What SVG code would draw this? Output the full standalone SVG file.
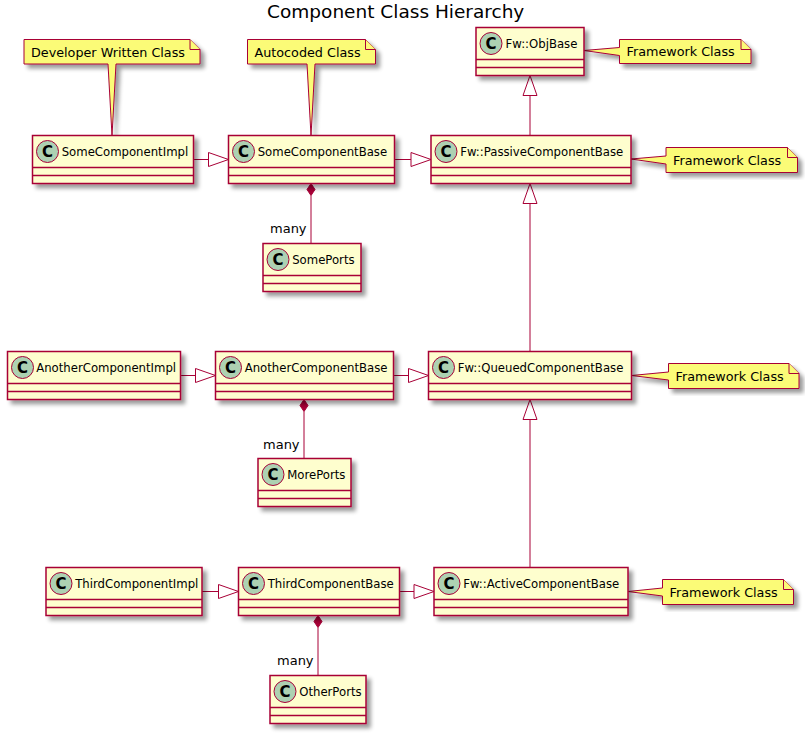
<svg xmlns="http://www.w3.org/2000/svg" width="805" height="736" viewBox="0 0 805 736">
<defs>
<filter id="sh" x="-10%" y="-10%" width="130%" height="140%">
<feGaussianBlur in="SourceAlpha" stdDeviation="2" result="b"/>
<feOffset in="b" dx="4" dy="4" result="o"/>
<feComponentTransfer in="o" result="s"><feFuncA type="linear" slope="0.4"/></feComponentTransfer>
<feMerge><feMergeNode in="s"/><feMergeNode in="SourceGraphic"/></feMerge>
</filter>
</defs>
<style>
.box{fill:#FEFECE;stroke:#A80036;stroke-width:1.5;}
.sep{stroke:#A80036;stroke-width:1.5;}
.ic{fill:#ADD1B2;stroke:#A80036;stroke-width:1;}
.icl{font-family:"DejaVu Sans",sans-serif;font-size:15px;font-weight:bold;fill:#000;text-anchor:middle;}
.nm{font-family:"DejaVu Sans",sans-serif;font-size:11.7px;fill:#000;}
.note{fill:#FBFB77;stroke:#A80036;stroke-width:1;}
.nt{font-family:"DejaVu Sans",sans-serif;font-size:12.75px;fill:#000;}
.mn{font-family:"DejaVu Sans",sans-serif;font-size:13px;fill:#000;}
.ln{stroke:#A80036;stroke-width:1;fill:none;}
.tri{fill:none;stroke:#A80036;stroke-width:1;}
.dia{fill:#A80036;stroke:#A80036;stroke-width:1;}
.title{font-family:"DejaVu Sans",sans-serif;font-size:18.5px;fill:#000;text-anchor:middle;}
</style>
<rect width="805" height="736" fill="#FFFFFF"/>
<text class="title" x="395.7" y="17.5">Component Class Hierarchy</text>

<g id="connectors">
<line class="ln" x1="193.5" y1="159.5" x2="208.5" y2="159.5"/>
<polygon class="tri" points="208.5,152.5 228.5,159.5 208.5,166.5"/>
<line class="ln" x1="394.5" y1="159.5" x2="411" y2="159.5"/>
<polygon class="tri" points="411,152.5 431,159.5 411,166.5"/>
<line class="ln" x1="180.5" y1="375.5" x2="195.5" y2="375.5"/>
<polygon class="tri" points="195.5,368.5 215.5,375.5 195.5,382.5"/>
<line class="ln" x1="393.5" y1="375.5" x2="408.5" y2="375.5"/>
<polygon class="tri" points="408.5,368.5 428.5,375.5 408.5,382.5"/>
<line class="ln" x1="202" y1="591.5" x2="218.5" y2="591.5"/>
<polygon class="tri" points="218.5,584.5 238.5,591.5 218.5,598.5"/>
<line class="ln" x1="399.5" y1="591.5" x2="414" y2="591.5"/>
<polygon class="tri" points="414,584.5 434,591.5 414,598.5"/>
<line class="ln" x1="530" y1="135.5" x2="530" y2="95.5"/>
<polygon class="tri" points="523,95.5 530,75.5 537,95.5"/>
<line class="ln" x1="530" y1="351.5" x2="530" y2="203.5"/>
<polygon class="tri" points="523,203.5 530,183.5 537,203.5"/>
<line class="ln" x1="530" y1="567.5" x2="530" y2="419.5"/>
<polygon class="tri" points="523,419.5 530,399.5 537,419.5"/>
<polygon class="dia" points="311,183.5 315,189.5 311,195.5 307,189.5"/>
<line class="ln" x1="311" y1="195.5" x2="311" y2="243.5"/>
<text class="mn" x="270" y="233">many</text>
<polygon class="dia" points="304,399.5 308,405.5 304,411.5 300,405.5"/>
<line class="ln" x1="304" y1="411.5" x2="304" y2="458.5"/>
<text class="mn" x="263" y="449">many</text>
<polygon class="dia" points="318,615.5 322,621.5 318,627.5 314,621.5"/>
<line class="ln" x1="318" y1="627.5" x2="318" y2="675.5"/>
<text class="mn" x="277" y="665">many</text>
</g>

<g id="note-dev">
<path class="note" filter="url(#sh)" d="M24,39.5 L190,39.5 L200,49.5 L200,64 L116,64 L112,135.5 L108,64 L24,64 Z"/>
<path class="note" d="M190,39.5 L190,49.5 L200,49.5"/>
<text class="nt" x="31" y="56.5">Developer Written Class</text>
</g>
<g id="note-auto">
<path class="note" filter="url(#sh)" d="M247.5,39.5 L365.5,39.5 L375.5,49.5 L375.5,64 L315,64 L311,135.5 L307,64 L247.5,64 Z"/>
<path class="note" d="M365.5,39.5 L365.5,49.5 L375.5,49.5"/>
<text class="nt" x="254.5" y="56.5">Autocoded Class</text>
</g>
<g id="note-objbase">
<path class="note" filter="url(#sh)" d="M619.5,39.5 L741,39.5 L751,49.5 L751,63.5 L619.5,63.5 L619.5,55.5 L584,50.5 L619.5,47.5 Z"/>
<path class="note" d="M741,39.5 L741,49.5 L751,49.5"/>
<text class="nt" x="626.5" y="56">Framework Class</text>
</g>
<g id="note-passive">
<path class="note" filter="url(#sh)" d="M666,147.5 L787.5,147.5 L797.5,157.5 L797.5,172.5 L666,172.5 L666,164 L631,159 L666,156 Z"/>
<path class="note" d="M787.5,147.5 L787.5,157.5 L797.5,157.5"/>
<text class="nt" x="673" y="164.5">Framework Class</text>
</g>
<g id="note-queued">
<path class="note" filter="url(#sh)" d="M668.5,363.5 L789,363.5 L799,373.5 L799,388.5 L668.5,388.5 L668.5,380 L631.5,375.5 L668.5,372 Z"/>
<path class="note" d="M789,363.5 L789,373.5 L799,373.5"/>
<text class="nt" x="675.5" y="380.5">Framework Class</text>
</g>
<g id="note-active">
<path class="note" filter="url(#sh)" d="M662.5,579.5 L783.5,579.5 L793.5,589.5 L793.5,604.5 L662.5,604.5 L662.5,596 L628,591.5 L662.5,588 Z"/>
<path class="note" d="M783.5,579.5 L783.5,589.5 L793.5,589.5"/>
<text class="nt" x="669.5" y="596.5">Framework Class</text>
</g>

<g id="SomeComponentImpl">
<rect class="box" filter="url(#sh)" x="32.5" y="135.5" width="161" height="48"/>
<line class="sep" x1="32.5" y1="167.5" x2="193.5" y2="167.5"/><line class="sep" x1="32.5" y1="175.5" x2="193.5" y2="175.5"/>
<circle class="ic" cx="47.5" cy="151.5" r="11"/><text class="icl" x="47.5" y="157">C</text>
<text class="nm" x="61.7" y="156">SomeComponentImpl</text>
</g>
<g id="SomeComponentBase">
<rect class="box" filter="url(#sh)" x="228.5" y="135.5" width="166" height="48"/>
<line class="sep" x1="228.5" y1="167.5" x2="394.5" y2="167.5"/><line class="sep" x1="228.5" y1="175.5" x2="394.5" y2="175.5"/>
<circle class="ic" cx="243.5" cy="151.5" r="11"/><text class="icl" x="243.5" y="157">C</text>
<text class="nm" x="257.7" y="156">SomeComponentBase</text>
</g>
<g id="FwPassiveComponentBase">
<rect class="box" filter="url(#sh)" x="431" y="135.5" width="200" height="48"/>
<line class="sep" x1="431" y1="167.5" x2="631" y2="167.5"/><line class="sep" x1="431" y1="175.5" x2="631" y2="175.5"/>
<circle class="ic" cx="446" cy="151.5" r="11"/><text class="icl" x="446" y="157">C</text>
<text class="nm" x="460.2" y="156">Fw::PassiveComponentBase</text>
</g>
<g id="FwObjBase">
<rect class="box" filter="url(#sh)" x="476" y="27.5" width="108" height="48"/>
<line class="sep" x1="476" y1="59.5" x2="584" y2="59.5"/><line class="sep" x1="476" y1="67.5" x2="584" y2="67.5"/>
<circle class="ic" cx="491" cy="43.5" r="11"/><text class="icl" x="491" y="49">C</text>
<text class="nm" x="505.5" y="48">Fw::ObjBase</text>
</g>
<g id="SomePorts">
<rect class="box" filter="url(#sh)" x="263" y="243.5" width="98" height="48"/>
<line class="sep" x1="263" y1="275.5" x2="361" y2="275.5"/><line class="sep" x1="263" y1="283.5" x2="361" y2="283.5"/>
<circle class="ic" cx="278" cy="259.5" r="11"/><text class="icl" x="278" y="265">C</text>
<text class="nm" x="292.2" y="264">SomePorts</text>
</g>

<g id="AnotherComponentImpl">
<rect class="box" filter="url(#sh)" x="7.5" y="351.5" width="173" height="48"/>
<line class="sep" x1="7.5" y1="383.5" x2="180.5" y2="383.5"/><line class="sep" x1="7.5" y1="391.5" x2="180.5" y2="391.5"/>
<circle class="ic" cx="22.5" cy="367.5" r="11"/><text class="icl" x="22.5" y="373">C</text>
<text class="nm" x="36.2" y="372">AnotherComponentImpl</text>
</g>
<g id="AnotherComponentBase">
<rect class="box" filter="url(#sh)" x="215.5" y="351.5" width="178" height="48"/>
<line class="sep" x1="215.5" y1="383.5" x2="393.5" y2="383.5"/><line class="sep" x1="215.5" y1="391.5" x2="393.5" y2="391.5"/>
<circle class="ic" cx="230.5" cy="367.5" r="11"/><text class="icl" x="230.5" y="373">C</text>
<text class="nm" x="244.7" y="372">AnotherComponentBase</text>
</g>
<g id="FwQueuedComponentBase">
<rect class="box" filter="url(#sh)" x="428.5" y="351.5" width="203" height="48"/>
<line class="sep" x1="428.5" y1="383.5" x2="631.5" y2="383.5"/><line class="sep" x1="428.5" y1="391.5" x2="631.5" y2="391.5"/>
<circle class="ic" cx="443.5" cy="367.5" r="11"/><text class="icl" x="443.5" y="373">C</text>
<text class="nm" x="457.7" y="372">Fw::QueuedComponentBase</text>
</g>
<g id="MorePorts">
<rect class="box" filter="url(#sh)" x="258" y="458.5" width="93" height="48"/>
<line class="sep" x1="258" y1="490.5" x2="351" y2="490.5"/><line class="sep" x1="258" y1="498.5" x2="351" y2="498.5"/>
<circle class="ic" cx="273" cy="474.5" r="11"/><text class="icl" x="273" y="480">C</text>
<text class="nm" x="287.2" y="479">MorePorts</text>
</g>

<g id="ThirdComponentImpl">
<rect class="box" filter="url(#sh)" x="46" y="567.5" width="156" height="48"/>
<line class="sep" x1="46" y1="599.5" x2="202" y2="599.5"/><line class="sep" x1="46" y1="607.5" x2="202" y2="607.5"/>
<circle class="ic" cx="61" cy="583.5" r="11"/><text class="icl" x="61" y="589">C</text>
<text class="nm" x="75.2" y="588">ThirdComponentImpl</text>
</g>
<g id="ThirdComponentBase">
<rect class="box" filter="url(#sh)" x="238.5" y="567.5" width="161" height="48"/>
<line class="sep" x1="238.5" y1="599.5" x2="399.5" y2="599.5"/><line class="sep" x1="238.5" y1="607.5" x2="399.5" y2="607.5"/>
<circle class="ic" cx="253.5" cy="583.5" r="11"/><text class="icl" x="253.5" y="589">C</text>
<text class="nm" x="267.7" y="588">ThirdComponentBase</text>
</g>
<g id="FwActiveComponentBase">
<rect class="box" filter="url(#sh)" x="434" y="567.5" width="194" height="48"/>
<line class="sep" x1="434" y1="599.5" x2="628" y2="599.5"/><line class="sep" x1="434" y1="607.5" x2="628" y2="607.5"/>
<circle class="ic" cx="449" cy="583.5" r="11"/><text class="icl" x="449" y="589">C</text>
<text class="nm" x="463.2" y="588">Fw::ActiveComponentBase</text>
</g>
<g id="OtherPorts">
<rect class="box" filter="url(#sh)" x="270" y="675.5" width="96" height="48"/>
<line class="sep" x1="270" y1="707.5" x2="366" y2="707.5"/><line class="sep" x1="270" y1="715.5" x2="366" y2="715.5"/>
<circle class="ic" cx="285" cy="691.5" r="11"/><text class="icl" x="285" y="697">C</text>
<text class="nm" x="299.2" y="696">OtherPorts</text>
</g>
</svg>
